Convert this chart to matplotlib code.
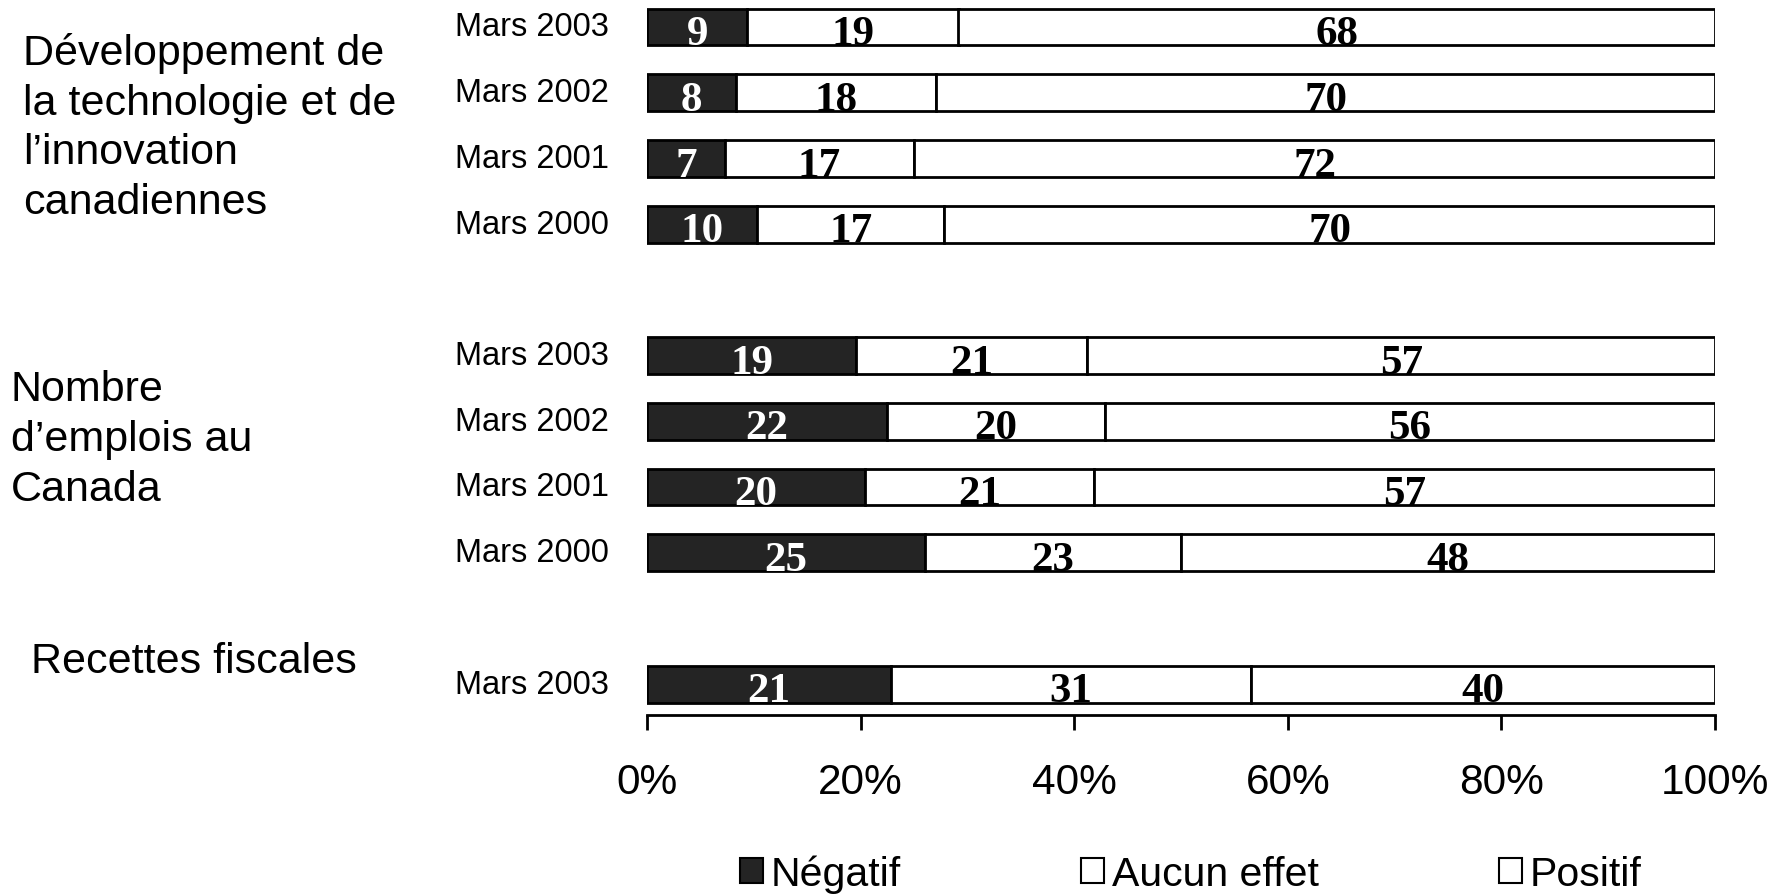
import matplotlib
matplotlib.use("Agg")
import matplotlib.pyplot as plt
from matplotlib.patches import Patch
import numpy as np

# Data
row_labels = ["Mars 2003", "Mars 2002", "Mars 2001", "Mars 2000",
              "Mars 2003", "Mars 2002", "Mars 2001", "Mars 2000",
              "Mars 2003"]
row_pos = [0, 1, 2, 3, 5, 6, 7, 8, 10]
negatif = [9, 8, 7, 10, 19, 22, 20, 25, 21]
aucun = [19, 18, 17, 17, 21, 20, 21, 23, 31]
positif = [68, 70, 72, 70, 57, 56, 57, 48, 40]
group_labels = ["Développement de\nla technologie et de\nl\u2019innovation\ncanadiennes",
                "Nombre\nd\u2019emplois au\nCanada",
                "Recettes fiscales"]
series_names = ["Négatif", "Aucun effet", "Positif"]
tick_vals = [0, 20, 40, 60, 80, 100]
tick_labels = ["0%", "20%", "40%", "60%", "80%", "100%"]

W, H = 1781, 895
fig = plt.figure(figsize=(W / 100, H / 100), dpi=100)
ax = fig.add_axes([647 / W, (H - 716) / H, (1715 - 647) / W, 715.6 / H])

neg = np.array(negatif, float)
auc = np.array(aucun, float)
pos = np.array(positif, float)
tot = neg + auc + pos
negp, aucp, posp = neg / tot * 100, auc / tot * 100, pos / tot * 100
y = np.array(row_pos, float)
h = 0.56

ax.barh(y, negp, height=h, color="#242424", edgecolor="black", linewidth=2)
ax.barh(y, aucp, left=negp, height=h, color="white", edgecolor="black", linewidth=2)
ax.barh(y, posp, left=negp + aucp, height=h, color="white", edgecolor="black", linewidth=2)

serif = ["Liberation Serif", "DejaVu Serif"]
fs_num = 31
ty = y + h / 2 - 0.02
for i in range(len(y)):
    ax.text(negp[i] / 2, ty[i], f"{negatif[i]}", ha="center", va="baseline",
            color="white", fontsize=fs_num, fontweight="bold", family=serif)
    ax.text(negp[i] + aucp[i] / 2, ty[i], f"{aucun[i]}", ha="center", va="baseline",
            color="black", fontsize=fs_num, fontweight="bold", family=serif)
    ax.text(negp[i] + aucp[i] + posp[i] / 2, ty[i], f"{positif[i]}", ha="center",
            va="baseline", color="black", fontsize=fs_num, fontweight="bold", family=serif)

ax.set_xlim(0, 100)
ax.set_ylim(10.47, -0.42)
ax.set_yticks([])
for s in ["top", "right", "left"]:
    ax.spines[s].set_visible(False)
ax.spines["bottom"].set_linewidth(2)
ax.set_xticks(tick_vals)
ax.set_xticklabels(tick_labels, family="Liberation Sans", fontsize=30.5)
ax.tick_params(axis="x", direction="out", length=11, width=2, pad=23)

sans = "Liberation Sans"
# Row labels
for yy, lab in zip(y, row_labels):
    ax.text(-3.6, yy, lab, ha="right", va="center", fontsize=23.5, family=sans)

# Group labels (figure pixel coords)
fig.text(23 / W, 1 - 128 / H, group_labels[0], ha="left", va="center",
         fontsize=31, family=sans, linespacing=1.31)
fig.text(11 / W, 1 - 440 / H, group_labels[1], ha="left", va="center",
         fontsize=31, family=sans, linespacing=1.31)
fig.text(31 / W, 1 - 662 / H, group_labels[2], ha="left", va="center",
         fontsize=31, family=sans, linespacing=1.31)

handles = [Patch(facecolor="#242424", edgecolor="black", linewidth=1.5),
           Patch(facecolor="white", edgecolor="black", linewidth=1.5),
           Patch(facecolor="white", edgecolor="black", linewidth=1.5)]
fig.legend(handles, series_names, loc="center", bbox_to_anchor=(1191 / W, 20 / H),
           ncol=3, frameon=False, prop={"family": sans, "size": 29.5},
           handlelength=0.55, handleheight=0.55, handletextpad=0.2, columnspacing=4.4)

fig.savefig("out.png", dpi=100)
